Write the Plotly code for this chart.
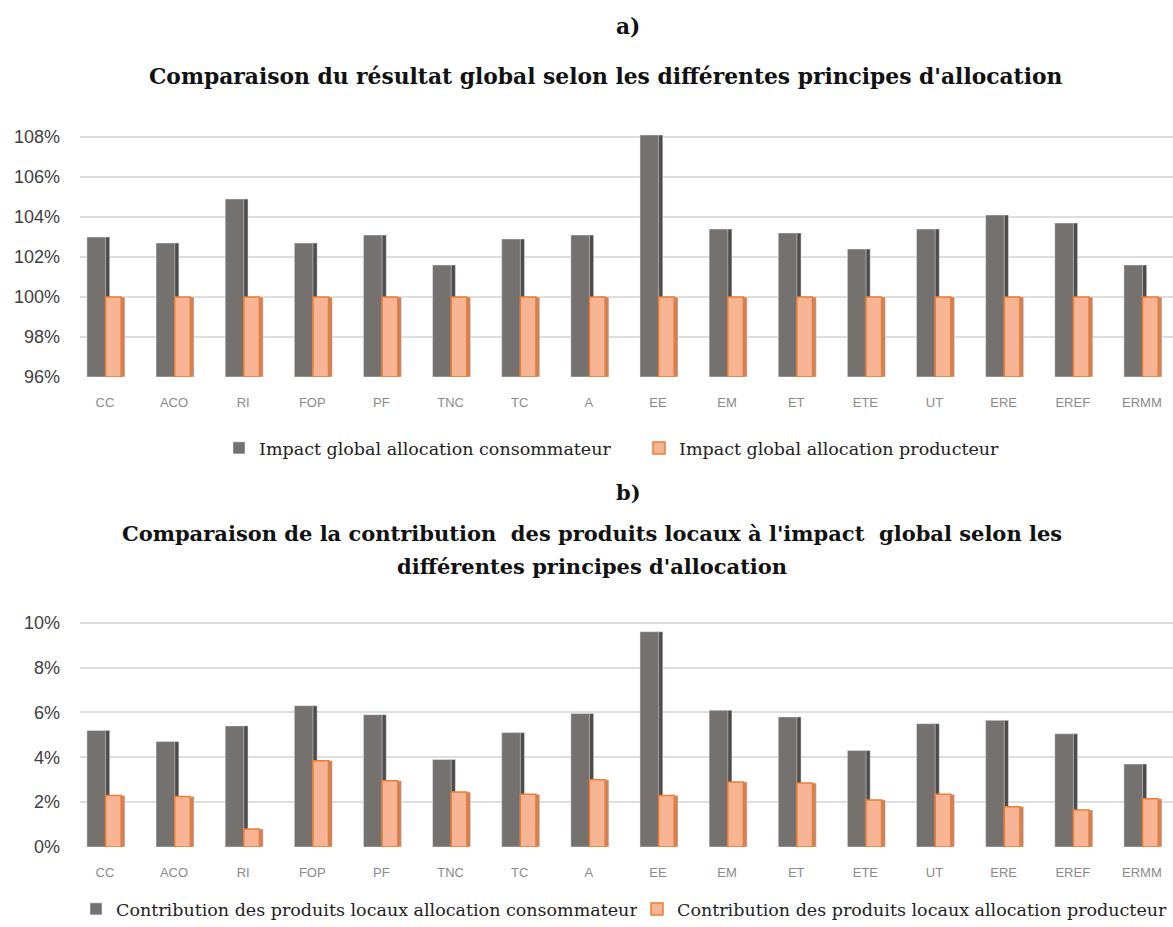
import plotly.graph_objects as go

categories = ["CC", "ACO", "RI", "FOP", "PF", "TNC", "TC", "A", "EE", "EM",
              "ET", "ETE", "UT", "ERE", "EREF", "ERMM"]

# a) global impact, percent
impact_consommateur = [103.0, 102.7, 104.9, 102.7, 103.1, 101.6, 102.9, 103.1,
                       108.1, 103.4, 103.2, 102.4, 103.4, 104.1, 103.7, 101.6]
impact_producteur = [100.0] * 16
ticks_a = [96, 98, 100, 102, 104, 106, 108]

# b) contribution of local products, percent
contrib_consommateur = [5.2, 4.7, 5.4, 6.3, 5.9, 3.9, 5.1, 5.95,
                        9.6, 6.1, 5.8, 4.3, 5.5, 5.65, 5.05, 3.7]
contrib_producteur = [2.3, 2.25, 0.8, 3.85, 2.95, 2.45, 2.35, 3.0,
                      2.3, 2.9, 2.85, 2.1, 2.35, 1.8, 1.65, 2.15]
ticks_b = [0, 2, 4, 6, 8, 10]

DARK = "#75716f"
DARK_SIDE = "#4f4b49"
ORANGE = "#f7b596"
ORANGE_SIDE = "#c9835f"
ORANGE_LINE = "#ed7d31"
SERIF = "DejaVu Serif"
SANS = "Liberation Sans Narrow, Liberation Sans"
W, H = 1173, 927

fig = go.Figure()


def add_pair(vals_dark, vals_orange, name_dark, name_orange, xa, ya, legends, base):
	# fake 3D: a darker narrow bar drawn behind the front face
	fig.add_trace(go.Bar(x=categories, y=vals_dark, base=base, xaxis=xa, yaxis=ya,
		offset=-0.02, width=0.09, marker=dict(color=DARK_SIDE), showlegend=False,
		hoverinfo="skip"))
	fig.add_trace(go.Bar(x=categories, y=vals_dark, base=base, xaxis=xa, yaxis=ya,
		offset=-0.26, width=0.27, marker=dict(color=DARK), name=name_dark,
		legend=legends[0]))
	fig.add_trace(go.Bar(x=categories, y=vals_orange, base=base, xaxis=xa, yaxis=ya,
		offset=0.2, width=0.09, marker=dict(color=ORANGE_SIDE), showlegend=False,
		hoverinfo="skip"))
	fig.add_trace(go.Bar(x=categories, y=vals_orange, base=base, xaxis=xa, yaxis=ya,
		offset=0.01, width=0.225,
		marker=dict(color=ORANGE, line=dict(color=ORANGE_LINE, width=1.5)),
		name=name_orange, legend=legends[1]))


add_pair([v - 96 for v in impact_consommateur], [v - 96 for v in impact_producteur],
	"Impact global allocation consommateur", "Impact global allocation producteur",
	"x", "y", ("legend", "legend2"), 96)
add_pair(contrib_consommateur, contrib_producteur,
	"Contribution des produits locaux allocation consommateur",
	"Contribution des produits locaux allocation producteur",
	"x2", "y2", ("legend3", "legend4"), 0)

xcommon = dict(type="category", range=[-0.36, 15.45], domain=[80 / W, 1.0],
	automargin=False, showgrid=False, showline=False, ticks="", ticklabelstandoff=16,
	tickfont=dict(family=SANS, size=13, color="#8a8a8a"))
ycommon = dict(automargin=False, showgrid=True, gridcolor="#dedede", gridwidth=2,
	zeroline=False, showline=False, ticklabelstandoff=19,
	tickfont=dict(family="Liberation Sans", size=18, color="#404040"))


def one_legend(left_px, y_px, anchor="middle"):
	return dict(x=left_px / W, xanchor="left", y=1 - y_px / H, yanchor=anchor,
		orientation="h", font=dict(family=SERIF, size=17.5, color="#222222"))


fig.update_layout(
	width=W, height=H,
	margin=dict(l=0, r=0, t=0, b=0),
	paper_bgcolor="white", plot_bgcolor="white",
	barmode="overlay",
	xaxis=dict(anchor="y", **xcommon),
	yaxis=dict(anchor="x", domain=[1 - 377 / H, 1 - 129 / H], range=[96, 108.4],
		tickvals=ticks_a, ticktext=[f"{t}%" for t in ticks_a], **ycommon),
	xaxis2=dict(anchor="y2", **xcommon),
	yaxis2=dict(anchor="x2", domain=[1 - 847 / H, 1 - 616 / H], range=[0, 10.3],
		tickvals=ticks_b, ticktext=[f"{t}%" for t in ticks_b], **ycommon),
	legend=one_legend(219, 448),
	legend2=one_legend(639, 448),
	legend3=one_legend(76, 0, "bottom"),
	legend4=one_legend(637, 0, "bottom"),
	annotations=[
		dict(text="<b>a)</b>", x=628, y=27, font=dict(size=21.8)),
		dict(text="<b>Comparaison du résultat global selon les différentes principes d'allocation</b>",
			x=605, y=77, font=dict(size=21.8)),
		dict(text="<b>b)</b>", x=628, y=492, font=dict(size=21)),
		dict(text="<b>Comparaison de la contribution  des produits locaux à l'impact  global selon les</b>",
			x=592, y=533, font=dict(size=21)),
		dict(text="<b>différentes principes d'allocation</b>", x=592, y=566, font=dict(size=21)),
	],
)
# bottom legends sit on the figure's lower edge
fig.layout.legend3.y = 0
fig.layout.legend4.y = 0

# annotations placed in pixel terms, converted to paper coordinates
for a in fig.layout.annotations:
	a.update(x=a.x / W, y=1 - a.y / H, xref="paper", yref="paper",
		xanchor="center", yanchor="middle", showarrow=False,
		font=dict(family=SERIF, color="#111111"))

# drop the default page margin so the figure fills the window exactly
fig.write_html("out.html", config={"displayModeBar": False},
	post_script="document.body.style.margin='0';document.body.style.overflow='hidden';")
